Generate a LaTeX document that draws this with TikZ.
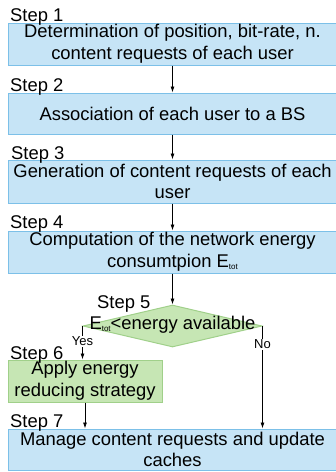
\documentclass[tikz,border=0pt]{standalone}
\usepackage{fontspec}
\setmainfont{Liberation Sans}
\usetikzlibrary{arrows.meta,shapes.geometric}
\definecolor{bluefill}{HTML}{C6E4F6}
\definecolor{blueline}{HTML}{7CC0E8}
\definecolor{greenfill}{HTML}{C6E6B4}
\definecolor{greenline}{HTML}{A0D08A}
\newcommand{\Etot}{E\raisebox{-1.5pt}{\fontsize{8}{9}\selectfont tot}}
\tikzset{
  x=1pt, y=-1pt,
  bigfont/.style={font=\fontsize{18.4}{21.6}\selectfont},
  bluebox/.style={draw=blueline, fill=bluefill, line width=1pt, minimum width=329pt, inner sep=0pt, align=center, bigfont},
  greenbox/.style={draw=greenline, fill=greenfill, line width=1pt, inner sep=0pt, align=center, bigfont},
  steplabel/.style={anchor=base west, inner sep=0pt, bigfont},
  flow/.style={-{Latex[length=6pt,width=4pt]}, line width=0.8pt},
  branchlabel/.style={fill=white, inner sep=1pt, font=\fontsize{13}{15}\selectfont},
}
\begin{document}
\begin{tikzpicture}
\useasboundingbox (0,0) rectangle (336,472);
% boxes
\node[bluebox, minimum height=42pt] (b1) at (172.5,44) {Determination of position, bit-rate, n.\\content requests of each user};
\node[bluebox, minimum height=41pt] (b2) at (172.5,113.5) {Association of each user to a BS};
\node[bluebox, minimum height=43pt] (b3) at (172.5,181.5) {Generation of content requests of each\\user};
\node[bluebox, minimum height=42pt] (b4) at (172.5,252) {Computation of the network energy\\consumtpion \Etot};
\node[diamond, draw=greenline, fill=greenfill, line width=1pt, inner sep=0pt, minimum width=179pt, minimum height=42pt] (d5) at (172.5,326) {};
\node[bigfont, inner sep=0pt] (d5t) at (172.5,325) {\Etot<energy available};
\node[greenbox, minimum width=154pt, minimum height=42pt] (b6) at (85,381) {Apply energy\\reducing strategy};
\node[bluebox, minimum height=41pt] (b7) at (172.5,449.5) {Manage content requests and update\\caches};
% step labels
\node[steplabel] (s1) at (10,21) {Step 1};
\node[steplabel] (s2) at (10,91) {Step 2};
\node[steplabel] (s3) at (11,159) {Step 3};
\node[steplabel] (s4) at (10,228) {Step 4};
\node[steplabel] (s5) at (97,308) {Step 5};
\node[steplabel] (s6) at (10,359) {Step 6};
\node[steplabel] (s7) at (10,427) {Step 7};
% connectors
\draw[flow] (b1.south) -- (b2.north);
\draw[flow] (b2.south) -- (b3.north);
\draw[flow] (b3.south) -- (b4.north);
\draw[flow] (b4.south) -- (d5.north);
\draw[flow] (d5.west) -- (d5.west |- b6.north) node[branchlabel, pos=0.45] {Yes};
\draw[flow] (d5.east) -- (d5.east |- b7.north) node[branchlabel, pos=0.18] {No};
\draw[flow] (b6.south) -- (b6.south |- b7.north);
\end{tikzpicture}
\end{document}
